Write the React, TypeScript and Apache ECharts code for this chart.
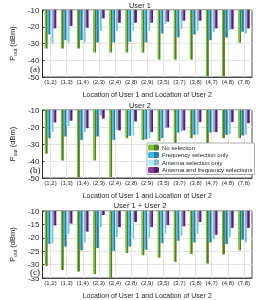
import React, { useEffect, useRef } from "react";
import * as echarts from "echarts";

const categories = ["(1,2)", "(1,3)", "(1,4)", "(2,3)", "(2,4)", "(2,8)", "(2,9)", "(3,5)", "(3,7)", "(3,8)", "(4,7)", "(4,8)", "(7,8)"];
const seriesNames = ["No selection", "Frequency selection only", "Antenna selection only", "Antenna and frequency selections"];

const user1NoSel = [-33, -33, -33, -35.4, -35.4, -35.4, -35.4, -39.6, -39.6, -39.6, -49.6, -49.6, -29.6];
const user1Freq = [-24.6, -28, -28, -29.4, -29.4, -29, -29.4, -24, -26.4, -24.6, -28, -26.4, -23];
const user1Ant = [-30, -29.4, -29.4, -22.4, -22.4, -22.4, -22.4, -18.4, -21.4, -22.4, -23, -22, -24];
const user1Both = [-21, -19.6, -20.6, -15, -17.6, -17.6, -17.6, -17, -16.4, -16.4, -21, -21.4, -21];

const user2NoSel = [-35.7, -39.7, -49.4, -39.7, -49.4, -26.6, -27.6, -28.2, -29.6, -26.6, -29.6, -26.6, -26.6];
const user2Freq = [-26.6, -25.6, -27.6, -25.6, -27.6, -25.2, -27.2, -26.6, -23.3, -24.6, -23.3, -24.6, -25];
const user2Ant = [-23, -19.3, -23, -13, -21.7, -25, -26.6, -20.7, -22.7, -24.6, -23, -24.2, -24.6];
const user2Both = [-17.3, -16.3, -20.7, -15.1, -22, -16.7, -23, -20.3, -22, -17.1, -23, -17.1, -17.7];

const sumNoSel = [-30.5, -32, -32.6, -33.6, -35.5, -25.7, -26.5, -27.4, -29, -26, -29.6, -26.2, -24.7];
const sumFreq = [-22.3, -23.3, -24.7, -23.8, -24.9, -23.3, -24.5, -22, -21.1, -21.7, -21.7, -22.3, -20.7];
const sumAnt = [-22, -18.7, -21.7, -16, -19.7, -20.5, -19.9, -18.5, -19.3, -18.5, -20.5, -19.7, -21.7];
const sumBoth = [-15.4, -14.7, -17.7, -11.5, -16, -14.1, -16, -15.3, -15.7, -14.1, -18.9, -16.3, -16.3];

const panelTitles = ["User 1", "User 2", "User 1 + User 2"];
const panelTags = ["(a)", "(b)", "(c)"];
const yMins = [-50, -50, -35];
const yIntervals = [10, 10, 5];

const colorPairs = [
  ["#7fbf3a", "#4f7d22"],
  ["#40b4e6", "#2a7ea6"],
  ["#b2e9fb", "#80bfd3"],
  ["#8b3a9c", "#5c1d6b"],
];

const grad = (c: string[]) => ({
  type: "linear",
  x: 0,
  y: 0,
  x2: 1,
  y2: 0,
  colorStops: [
    { offset: 0, color: c[0] },
    { offset: 0.5, color: c[0] },
    { offset: 0.5, color: c[1] },
    { offset: 1, color: c[1] },
  ],
});

export default function App() {
  const ref = useRef<HTMLDivElement>(null);
  useEffect(() => {
    const chart = echarts.init(ref.current!, null, { renderer: "svg" });
    const grids = [
      { left: 33, right: 23, top: 10, height: 67 },
      { left: 33, right: 23, top: 110, height: 68 },
      { left: 33, right: 23, top: 211, height: 69 },
    ];
    const panelData = [
      [user1NoSel, user1Freq, user1Ant, user1Both],
      [user2NoSel, user2Freq, user2Ant, user2Both],
      [sumNoSel, sumFreq, sumAnt, sumBoth],
    ];
    const textColor = "#262626";
    const font = "Liberation Sans";
    const series: any[] = [];
    panelData.forEach((arrs, p) => {
      arrs.forEach((arr, s) => {
        series.push({
          type: "bar",
          name: seriesNames[s],
          xAxisIndex: p,
          yAxisIndex: p,
          data: arr,
          barGap: "0%",
          barCategoryGap: "28%",
          itemStyle: { color: grad(colorPairs[s]) },
          clip: true,
        });
      });
    });
    const option: any = {
      animation: false,
      grid: grids.map((g) => ({ ...g, show: true, borderColor: textColor, borderWidth: 0.8, backgroundColor: "#fff" })),
      xAxis: grids.map((_, i) => ({
        type: "category",
        gridIndex: i,
        data: categories,
        name: "Location of User 1 and Location of User 2",
        nameLocation: "middle",
        nameGap: 14,
        nameTextStyle: { fontSize: 7, color: textColor, fontFamily: font },
        axisLine: { lineStyle: { color: textColor, width: 0.8 } },
        axisTick: { alignWithLabel: true, inside: true, length: 2, lineStyle: { color: textColor } },
        axisLabel: { fontSize: 6, color: textColor, fontFamily: font, margin: 2, interval: 0 },
        splitLine: { show: true, alignWithLabel: true, lineStyle: { color: "#e4e4e4", width: 1 } },
      })),
      yAxis: grids.map((_, i) => ({
        type: "value",
        gridIndex: i,
        min: yMins[i],
        max: -10,
        interval: yIntervals[i],
        name: "{a|P}{b|out}{a| (dBm)}",
        nameLocation: "middle",
        nameGap: 22,
        nameRotate: 90,
        nameTextStyle: {
          color: textColor,
          fontFamily: font,
          rich: {
            a: { fontSize: 7.5, color: textColor, fontFamily: font, lineHeight: 10 },
            b: { fontSize: 5, color: textColor, fontFamily: font, verticalAlign: "bottom", lineHeight: 10 },
          },
        },
        axisLine: { show: true, lineStyle: { color: textColor, width: 0.8 } },
        axisTick: { show: true, inside: true, length: 2, lineStyle: { color: textColor } },
        axisLabel: { fontSize: 8, color: textColor, fontFamily: font, margin: 3 },
        splitLine: { show: true, lineStyle: { color: "#e4e4e4", width: 1 } },
      })),
      legend: {
        data: seriesNames,
        orient: "vertical",
        left: 147,
        top: 143,
        itemWidth: 11,
        itemHeight: 6,
        itemGap: 1.5,
        padding: [1.5, 2, 1.5, 1],
        backgroundColor: "#fff",
        borderColor: "#999",
        borderWidth: 0.8,
        textStyle: { fontSize: 6, color: textColor, fontFamily: font, padding: [0, 0, 0, -2] },
        z: 10,
      },
      graphic: [
        ...panelTitles.map((t, i) => ({
          type: "text",
          x: 140,
          y: [5, 105, 205][i],
          style: { text: t, fontSize: 7.5, fill: textColor, fontFamily: font, align: "center", verticalAlign: "middle" },
        })),
        ...panelTags.map((t, i) => ({
          type: "text",
          x: 30,
          y: [69, 170, 272][i],
          z: 20,
          style: {
            text: t,
            fontSize: 9,
            fill: "#111",
            fontFamily: "Liberation Serif",
            align: "left",
            verticalAlign: "middle",
            backgroundColor: "#fff",
            padding: [0, 1, 0, 0],
          },
        })),
      ],
      series,
    };
    chart.setOption(option);
    return () => chart.dispose();
  }, []);
  return <div ref={ref} style={{ position: "fixed", left: 0, top: 0, width: 275, height: 300 }} />;
}
